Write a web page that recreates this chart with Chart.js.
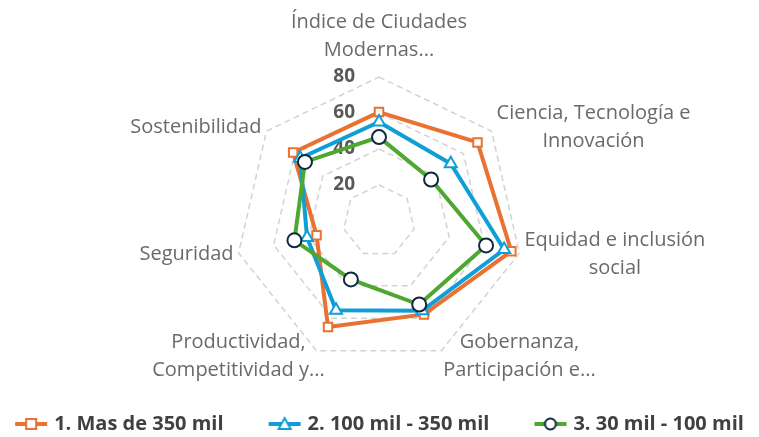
<!DOCTYPE html>
<html>
<head>
<meta charset="utf-8">
<script src="https://cdn.jsdelivr.net/npm/chart.js@4.4.1/dist/chart.umd.min.js"></script>
<style>
  html, body { margin: 0; padding: 0; background: #fff; }
  #wrap { width: 759px; height: 437px; }
</style>
</head>
<body>
<div id="wrap"><canvas id="radarChart"></canvas></div>
<script>
const axisLabels = [
  ['Índice de Ciudades', 'Modernas...'],
  ['Ciencia, Tecnología e', 'Innovación'],
  ['Equidad e inclusión', 'social'],
  ['Gobernanza,', 'Participación e...'],
  ['Productividad,', 'Competitividad y...'],
  ['Seguridad'],
  ['Sostenibilidad']
];
const seriesNames = ['1. Mas de 350 mil', '2. 100 mil - 350 mil', '3. 30 mil - 100 mil'];
const mas350 = [60.5, 70, 75.4, 57.6, 65.3, 35.6, 61];
const de100a350 = [55, 51, 71.3, 55.3, 55, 41, 56];
const de30a100 = [46.6, 37, 61, 51.5, 36, 48.2, 52.6];
const tickValues = [20, 40, 60, 80];

const ORANGE = '#E97132';
const BLUE = '#0F9ED5';
const GREEN = '#4EA72E';
const NAVY = '#0E2841';

// little line + marker picture for the legend
function legendIcon(color, style, border) {
  const c = document.createElement('canvas');
  c.width = 36;
  c.height = 18;
  const g = c.getContext('2d');
  g.strokeStyle = color;
  g.lineWidth = 4;
  g.beginPath();
  g.moveTo(2, 9);
  g.lineTo(34, 9);
  g.stroke();
  g.fillStyle = '#fff';
  g.strokeStyle = border;
  g.lineWidth = 2;
  g.beginPath();
  if (style === 'rect') {
    g.rect(13, 4, 10, 10);
  } else if (style === 'triangle') {
    g.moveTo(18, 3);
    g.lineTo(24, 14);
    g.lineTo(12, 14);
    g.closePath();
  } else {
    g.arc(18, 9, 5.5, 0, Math.PI * 2);
  }
  g.fill();
  g.stroke();
  return c;
}

const axisText = {
  id: 'axisText',
  beforeDatasetsDraw(chart) {
    const r = chart.scales.r;
    const ctx = chart.ctx;
    ctx.save();
    ctx.textBaseline = 'middle';

    ctx.fillStyle = '#595959';
    ctx.font = 'bold 19px "Open Sans"';
    ctx.textAlign = 'right';
    tickValues.forEach(v => {
      ctx.fillText(String(v), r.xCenter - 24, r.yCenter - r.getDistanceFromCenterForValue(v));
    });

    ctx.fillStyle = '#6a6a6a';
    ctx.font = '20px "Open Sans"';
    ctx.textAlign = 'center';
    const lh = 28;
    axisLabels.forEach((lines, i) => {
      const p = r.getPointPosition(i, r.drawingArea);
      const w = Math.max(...lines.map(t => ctx.measureText(t).width));
      const h = lines.length * lh;
      const dx = p.x - r.xCenter;
      const dy = p.y - r.yCenter;
      let cx = p.x;
      let cy = p.y + dy * 0.04;
      if (Math.abs(dx) < 1) {
        cy = p.y - 13 - h / 2;
      } else if (Math.abs(dx) < r.drawingArea * 0.5) {
        cx = p.x + Math.sign(dx) * 78;
      } else {
        cx = p.x + Math.sign(dx) * (w / 2 + 5);
      }
      lines.forEach((t, j) => ctx.fillText(t, cx, cy - h / 2 + lh * (j + 0.5)));
    });
    ctx.restore();
  }
};

const ctx = document.getElementById('radarChart').getContext('2d');
new Chart(ctx, {
  type: 'radar',
  data: {
    labels: axisLabels.map(l => l.join(' ')),
    datasets: [
      {
        label: seriesNames[0],
        data: mas350,
        borderColor: ORANGE,
        borderWidth: 4,
        pointStyle: 'rect',
        pointRadius: 6,
        pointBorderWidth: 2,
        pointBackgroundColor: '#fff',
        pointBorderColor: ORANGE,
        fill: false,
        order: 3
      },
      {
        label: seriesNames[1],
        data: de100a350,
        borderColor: BLUE,
        borderWidth: 4,
        pointStyle: 'triangle',
        pointRadius: 7,
        pointBorderWidth: 2,
        pointBackgroundColor: '#fff',
        pointBorderColor: BLUE,
        fill: false,
        order: 2
      },
      {
        label: seriesNames[2],
        data: de30a100,
        borderColor: GREEN,
        borderWidth: 4,
        pointStyle: 'circle',
        pointRadius: 7,
        pointBorderWidth: 2,
        pointBackgroundColor: '#fff',
        pointBorderColor: NAVY,
        fill: false,
        order: 1
      }
    ]
  },
  options: {
    responsive: true,
    maintainAspectRatio: false,
    animation: false,
    // negative sides give the legend row more room than the canvas width
    layout: { padding: { top: 77, left: -48, right: -51, bottom: -7 } },
    elements: { line: { tension: 0 } },
    scales: {
      r: {
        min: 0,
        max: 80,
        ticks: { stepSize: 20, display: false },
        pointLabels: { display: false },
        angleLines: { display: false },
        grid: { color: '#D3D3D3', lineWidth: 1.5 },
        border: { dash: [6, 4] }
      }
    },
    plugins: {
      tooltip: { enabled: false },
      legend: {
        position: 'bottom',
        title: { display: true, text: '', font: { size: 1, lineHeight: 1 }, padding: 0 },
        labels: {
          usePointStyle: true,
          pointStyleWidth: 26,
          padding: 48,
          color: '#404040',
          font: { family: '"Open Sans"', size: 20, weight: 'bold' },
          sort: (a, b) => a.datasetIndex - b.datasetIndex,
          generateLabels(chart) {
            const icons = [
              legendIcon(ORANGE, 'rect', ORANGE),
              legendIcon(BLUE, 'triangle', BLUE),
              legendIcon(GREEN, 'circle', NAVY)
            ];
            return chart.data.datasets.map((ds, i) => ({
              text: ds.label,
              datasetIndex: i,
              pointStyle: icons[i],
              fontColor: '#404040',
              hidden: false,
              lineWidth: 0
            }));
          }
        }
      }
    }
  },
  plugins: [axisText]
});
</script>
</body>
</html>
